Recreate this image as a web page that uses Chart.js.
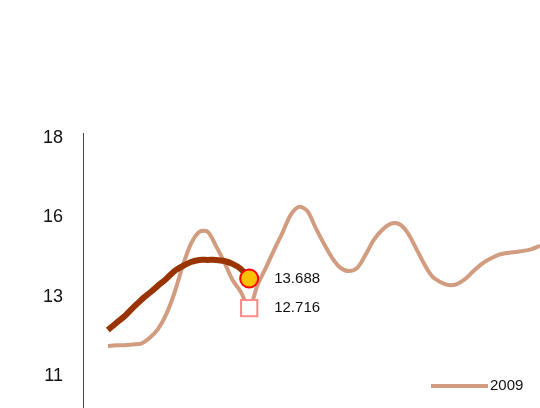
<!DOCTYPE html>
<html lang="en">
<head>
    <meta charset="UTF-8">
    <title>2009 chart</title>
    <script src="https://cdn.jsdelivr.net/npm/chart.js"></script>
    <style>
        html, body { margin: 0; padding: 0; background: #fff; overflow: hidden; }
        canvas { display: block; }
    </style>
</head>
<body>
<canvas id="myChart" width="540" height="408"></canvas>
<script>
    // weeks of the year
    const weeks = [1,2,3,4,5,6,7,8,9,10,11,12,13,14,15,16,17,18,19,20,21,22,23,24,25,26,27,
                   28,29,30,31,32,33,34,35,36,37,38,39,40,41,42,43,44,45,46,47,48,49,50,51,52,53];
    const tickLabels = [11, 13, 16, 18];

    const series2009 = [11.76,11.78,11.78,11.80,11.82,11.96,12.18,12.55,13.14,14.16,15.0,15.45,15.45,14.92,
                        14.31,13.63,13.18,12.716,13.44,14.09,14.77,15.41,16.06,16.26,16.16,15.6,15.0,14.46,
                        14.09,13.97,14.09,14.58,15.15,15.52,15.75,15.75,15.45,14.88,14.27,13.78,13.56,13.44,
                        13.48,13.67,13.97,14.24,14.43,14.58,14.65,14.69,14.73,14.80,14.92];
    const seriesCurrent = [12.16,12.34,12.51,12.72,12.92,13.14,13.41,13.67,13.97,14.16,14.31,14.39,14.39,14.39,
                           14.35,14.24,14.05,13.688];

    const markIdx = 17; // last reading, marked on both lines

    // the axis is spaced evenly between its tick labels, so values are placed piecewise
    function toAxis(v) {
        for (let i = 0; i < tickLabels.length - 1; i++) {
            if (v <= tickLabels[i + 1] || i === tickLabels.length - 2) {
                return i + (v - tickLabels[i]) / (tickLabels[i + 1] - tickLabels[i]);
            }
        }
    }
    const pts = (arr) => arr.map((v, i) => ({ x: weeks[i], y: toAxis(v), raw: v }));

    // no extra room for overflowing tick labels
    const noPad = (s) => { s.paddingTop = 0; s.paddingBottom = 0; s.paddingLeft = 0; s.paddingRight = 0; };

    const valueLabels = {
        id: 'valueLabels',
        afterDatasetsDraw(chart) {
            const ctx = chart.ctx;
            ctx.save();
            ctx.font = '15px "Liberation Sans", Arial, sans-serif';
            ctx.fillStyle = '#111';
            ctx.textBaseline = 'middle';
            chart.data.datasets.forEach((ds, di) => {
                const el = chart.getDatasetMeta(di).data[markIdx];
                if (!el) return;
                ctx.fillText(ds.data[markIdx].raw.toFixed(3), el.x + 25, el.y);
            });
            ctx.restore();
        }
    };

    const legendBox = {
        id: 'legendBox',
        afterDraw(chart) {
            const ctx = chart.ctx;
            const ds = chart.data.datasets[0];
            ctx.save();
            ctx.strokeStyle = ds.borderColor;
            ctx.lineWidth = 4;
            ctx.beginPath();
            ctx.moveTo(431, 386);
            ctx.lineTo(488, 386);
            ctx.stroke();
            ctx.font = '15px "Liberation Sans", Arial, sans-serif';
            ctx.fillStyle = '#111';
            ctx.textBaseline = 'middle';
            ctx.fillText(ds.label, 490, 386);
            ctx.restore();
        }
    };

    new Chart(document.getElementById('myChart'), {
        type: 'line',
        data: {
            datasets: [{
                label: '2009',
                data: pts(series2009),
                borderColor: '#d19c80',
                borderWidth: 4,
                pointStyle: 'rect',
                pointRadius: (c) => c.dataIndex === markIdx ? 11.5 : 0,
                pointBackgroundColor: '#ffffff',
                pointBorderColor: '#ff8a8a',
                pointBorderWidth: 2,
                tension: 0.3,
                order: 2
            }, {
                label: 'current',
                data: pts(seriesCurrent),
                borderColor: '#993300',
                borderWidth: 6,
                pointStyle: 'circle',
                pointRadius: (c) => c.dataIndex === markIdx ? 9 : 0,
                pointBackgroundColor: '#ffc000',
                pointBorderColor: '#ff0000',
                pointBorderWidth: 2,
                tension: 0.3,
                order: 1
            }]
        },
        options: {
            responsive: false,
            animation: false,
            layout: { autoPadding: false, padding: { top: 133, left: 0, right: 0, bottom: 0 } },
            plugins: { legend: { display: false }, tooltip: { enabled: false } },
            scales: {
                x: { type: 'linear', min: -2, max: 53, display: false, afterFit: noPad },
                y: {
                    min: -0.4, max: 3.06,
                    afterFit: (s) => { s.width = 83; noPad(s); },
                    afterBuildTicks: (s) => { s.ticks = tickLabels.map((t, i) => ({ value: i })); },
                    grid: { display: false, drawTicks: false },
                    border: { display: true, color: '#444', width: 1 },
                    ticks: {
                        padding: 20,
                        color: '#111',
                        font: { family: '"Liberation Sans", Arial, sans-serif', size: 18 },
                        callback: (v) => tickLabels[Math.round(v)]
                    }
                }
            }
        },
        plugins: [valueLabels, legendBox]
    });
</script>
</body>
</html>
